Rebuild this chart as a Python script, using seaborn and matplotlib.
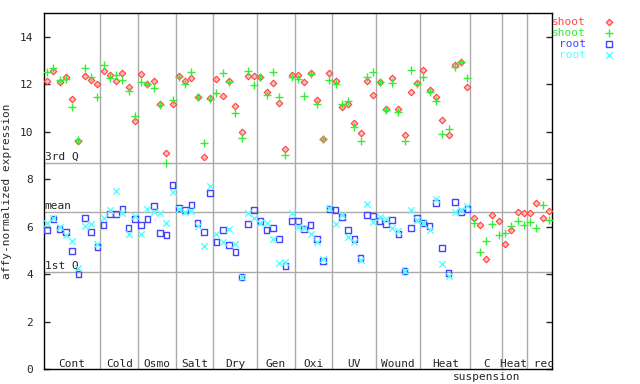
import matplotlib
matplotlib.use("Agg")
import matplotlib.pyplot as plt
import matplotlib.transforms as mtransforms
import numpy as np
import pandas as pd
import seaborn as sns

# groups of samples along the x axis ("" = continues the previous label)
group_names = ["Cont", "Cold", "Osmo", "Salt", "Dry", "Gen", "Oxi", "UV",
               "Wound", "Heat", "C\nsuspension", "Heat rec", ""]
group_sizes = [9, 6, 6, 6, 7, 6, 6, 7, 7, 8, 5, 4, 4]

# expression values (shoot: 81 samples, root: 68 samples)
shoot_rep1 = [12.15, 12.57, 12.10, 12.31, 11.39, 9.61, 12.33, 12.19, 12.02,
              12.57, 12.40, 12.15, 12.48, 11.89, 10.46,
              12.44, 12.02, 12.15, 11.18, 9.11, 11.18,
              12.36, 12.15, 12.27, 11.47, 8.94, 11.43,
              12.23, 11.51, 12.15, 11.09, 9.99, 12.36, 12.36,
              12.31, 11.68, 12.06, 11.22, 9.28, 12.40,
              12.40, 12.10, 12.48, 11.34, 9.70, 12.48,
              12.15, 11.05, 11.18, 10.37, 9.95, 12.15, 11.55,
              12.10, 10.96, 12.27, 10.96, 9.87, 11.68, 12.06,
              12.61, 11.77, 11.47, 10.50, 9.87, 12.82, 12.95, 11.89,
              6.37, 6.07, 4.64, 6.49, 6.24,
              5.27, 5.86, 6.62, 6.58, 6.58, 7.00, 6.37, 6.66]
shoot_rep2 = [12.52, 12.69, 12.16, 12.20, 11.05, 9.66, 12.69, 12.31, 11.47,
              12.82, 12.27, 12.40, 12.19, 11.72, 10.67,
              12.10, 12.02, 11.85, 11.13, 8.69, 11.34,
              12.31, 12.02, 12.52, 11.47, 9.53, 11.39,
              11.64, 12.48, 12.10, 10.80, 9.74, 12.57, 11.98,
              12.31, 11.55, 12.52, 11.47, 9.02, 12.31,
              12.23, 11.51, 12.44, 11.18, 9.70, 12.19,
              12.02, 11.18, 11.30, 10.21, 9.61, 12.31, 12.52,
              12.10, 10.92, 12.06, 10.84, 9.61, 12.61, 12.02,
              12.31, 11.68, 11.30, 9.91, 10.12, 12.74, 12.95, 12.27,
              6.16, 4.93, 5.40, 6.11, 5.65,
              5.74, 6.03, 6.24, 6.07, 6.20, 5.95, 6.92, 6.28]
root_rep1 = [5.86, 6.33, 5.90, 5.78, 4.98, 4.01, 6.37, 5.78, 5.14,
             6.07, 6.54, 6.54, 6.75, 5.95, 6.33,
             6.07, 6.33, 6.87, 5.74, 5.65, 7.76,
             6.79, 6.70, 6.92, 6.16, 5.78, 7.42,
             5.36, 5.86, 5.23, 4.93, 3.88, 6.11, 6.70,
             6.24, 5.86, 5.95, 5.48, 4.34, 6.24,
             6.24, 5.90, 6.07, 5.48, 4.55, 6.75,
             6.70, 6.41, 5.86, 5.48, 4.68, 6.49, 6.45,
             6.24, 6.11, 6.28, 5.69, 4.13, 5.95, 6.37,
             6.16, 6.03, 7.00, 5.10, 4.05, 7.04, 6.62, 6.75]
root_rep2 = [6.16, 6.35, 5.99, 5.65, 5.41, 4.26, 6.03, 6.11, 5.27,
             6.37, 6.70, 7.51, 6.58, 5.69, 6.45,
             5.69, 6.75, 6.62, 6.58, 6.16, 7.46,
             6.75, 6.62, 6.66, 6.03, 5.19, 7.72,
             5.69, 5.36, 5.90, 5.27, 3.88, 6.58, 6.37,
             6.16, 6.16, 5.48, 4.47, 4.51, 6.58,
             5.99, 5.95, 5.69, 5.36, 4.64, 6.79,
             6.11, 6.49, 5.57, 5.36, 4.60, 6.96, 6.20,
             6.41, 6.33, 5.95, 5.82, 4.13, 6.70, 6.28,
             6.16, 5.86, 7.17, 4.43, 3.92, 6.62, 6.70, 6.87]

# reference levels of the chip
q1_level = 4.08
mean_level = 6.62
q3_level = 8.68

sns.set_style("white")
plt.rcParams["font.family"] = ["DejaVu Sans Mono"]
plt.rcParams["font.size"] = 8

fig = plt.figure(figsize=(6.4, 3.84), dpi=100)
ax = fig.add_axes([44 / 640, 15 / 384, 508 / 640, 356 / 384])

grey = "#aaaaaa"
n_total = sum(group_sizes)
bounds = np.cumsum(group_sizes)

# reference lines
for lvl, name in [(q3_level, "3rd Q"), (mean_level, "mean"), (q1_level, "1st Q")]:
    ax.axhline(lvl, color=grey, lw=1, zorder=1)
    ax.text(0.6, lvl + 0.05, name, ha="left", va="bottom", fontsize=8)

# group separators
for b in bounds[:-1]:
    ax.axvline(b + 0.5, color=grey, lw=1, zorder=1)

series = [
    (shoot_rep1, "shoot", "#ff4c4c", "D", 11, dict(facecolor="#ffbcbc", edgecolor="#ff4040", linewidth=0.8)),
    (shoot_rep2, "shoot", "#33ee33", "+", 30, dict(linewidth=1.0)),
    (root_rep1, "root", "#4444ff", "s", 16, dict(facecolor="none", edgecolor="#4444ff", linewidth=1.0)),
    (root_rep2, "root", "#55ffff", "x", 22, dict(linewidth=1.0)),
]
for vals, lab, col, mk, size, kw in series:
    df = pd.DataFrame({"sample": np.arange(1, len(vals) + 1), "value": vals})
    if mk in "+x":
        sns.scatterplot(data=df, x="sample", y="value", marker=mk, color=col,
                        s=size, label=lab, ax=ax, zorder=3, **kw)
    else:
        sns.scatterplot(data=df, x="sample", y="value", marker=mk,
                        s=size, label=lab, ax=ax, zorder=3, **kw)

ax.set_xlim(0.5, n_total + 0.5)
ax.set_ylim(0, 15)
ax.set_yticks(range(0, 15, 2))
ax.set_xticks([])
ax.set_xlabel("")
ax.set_ylabel("affy-normalized expression", fontsize=8)
ax.yaxis.set_label_coords(-32 / 508, 0.5)
ax.tick_params(axis="y", direction="in", length=4.5, width=1, left=True,
               right=True, labelsize=8, pad=8)
for sp in ax.spines.values():
    sp.set_color("black")
    sp.set_linewidth(1)

# group labels (a label followed by "" spans both groups)
trans = mtransforms.blended_transform_factory(ax.transData, ax.transAxes)
starts = np.concatenate([[0], bounds[:-1]])
for i, name in enumerate(group_names):
    if not name:
        continue
    end = bounds[i]
    if i + 1 < len(group_names) and group_names[i + 1] == "":
        end = bounds[i + 1]
    xc = (starts[i] + end + 1) / 2
    for k, line in enumerate(name.split("\n")):
        ax.text(xc, 0.015 - k * 0.037, line, transform=trans, ha="center",
                va="center", fontsize=8)

handles, labels = ax.get_legend_handles_labels()
leg = ax.legend(handles, labels, loc="upper left", bbox_to_anchor=(1.0, 0.99),
                frameon=False, markerfirst=False, fontsize=8,
                labelcolor=["#ff4c4c", "#33ee33", "#4444ff", "#55ffff"],
                handletextpad=1.0, handlelength=2.2, labelspacing=0.1,
                borderpad=0, borderaxespad=0)

fig.savefig("out.png", dpi=100)
